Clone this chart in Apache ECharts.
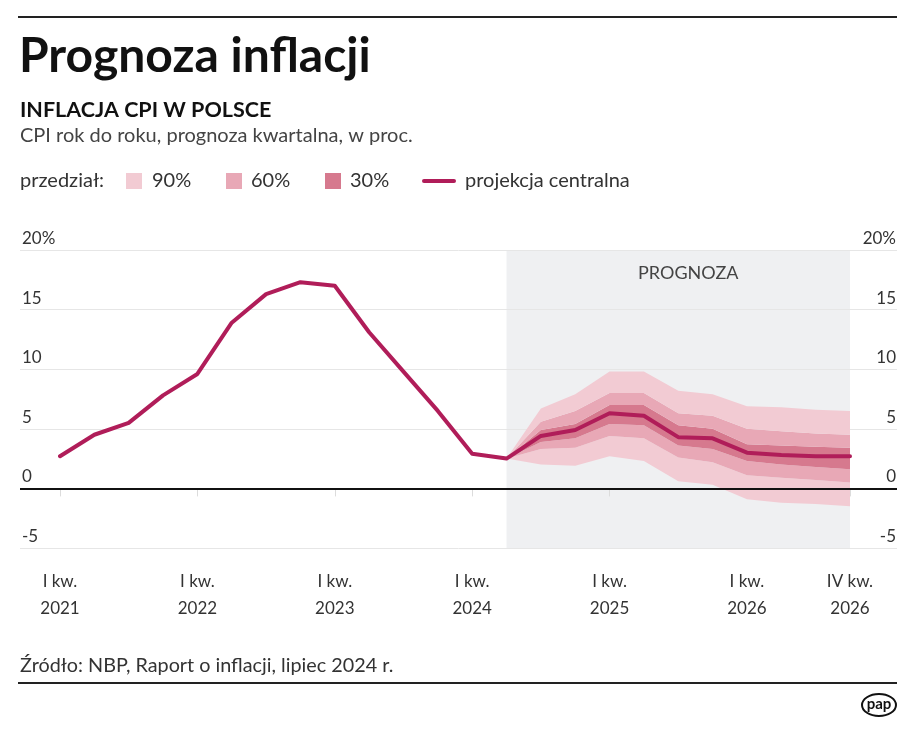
<!DOCTYPE html>
<html>
<head>
<meta charset="utf-8">
<script src="https://cdn.jsdelivr.net/npm/echarts@6/dist/echarts.min.js"></script>
<style>
html,body{margin:0;padding:0;background:#fff;}
#c{width:915px;height:731px;}
</style>
</head>
<body>
<div id="c"></div>
<script>
// ---- DATA ----
const categories = [
  'I kw. 2021','II kw. 2021','III kw. 2021','IV kw. 2021',
  'I kw. 2022','II kw. 2022','III kw. 2022','IV kw. 2022',
  'I kw. 2023','II kw. 2023','III kw. 2023','IV kw. 2023',
  'I kw. 2024','II kw. 2024','III kw. 2024','IV kw. 2024',
  'I kw. 2025','II kw. 2025','III kw. 2025','IV kw. 2025',
  'I kw. 2026','II kw. 2026','III kw. 2026','IV kw. 2026'
];
const labelledQuarters = ['I kw. 2021','I kw. 2022','I kw. 2023','I kw. 2024','I kw. 2025','I kw. 2026','IV kw. 2026'];
// observed CPI, I kw. 2021 .. II kw. 2024
const cpiActual = [2.7, 4.5, 5.5, 7.8, 9.6, 13.9, 16.3, 17.3, 17.0, 13.1, 9.8, 6.5, 2.9, 2.5];
// projection, II kw. 2024 .. IV kw. 2026
const cpiCentral = [2.5, 4.4, 4.9, 6.3, 6.1, 4.3, 4.2, 3.0, 2.8, 2.7, 2.7];
const lower90 = [2.5, 2.0, 1.9, 2.7, 2.3, 0.6, 0.3, -0.9, -1.2, -1.3, -1.5];
const lower60 = [2.5, 3.3, 3.4, 4.4, 4.2, 2.6, 2.2, 1.1, 0.9, 0.7, 0.5];
const lower30 = [2.5, 3.9, 4.2, 5.4, 5.3, 3.6, 3.3, 2.3, 2.0, 1.8, 1.6];
const upper30 = [2.5, 4.9, 5.4, 7.0, 7.0, 5.3, 5.0, 3.7, 3.6, 3.5, 3.4];
const upper60 = [2.5, 5.6, 6.5, 8.0, 8.0, 6.3, 6.1, 5.0, 4.8, 4.6, 4.5];
const upper90 = [2.5, 6.7, 7.9, 9.8, 9.8, 8.2, 7.9, 6.9, 6.8, 6.6, 6.5];
const forecastStart = 'II kw. 2024';
const forecastEnd = 'IV kw. 2026';
const yTicks = [-5, 0, 5, 10, 15, 20];

// ---- STYLE ----
const FONT = 'Lato, "Open Sans", sans-serif';
const C90 = '#f2cbd3', C60 = '#e8a8b6', C30 = '#d6798e', CLINE = '#b01d59';

const startIdx = categories.indexOf(forecastStart);
const pad = n => new Array(n).fill('-');
const fullLine = cpiActual.concat(cpiCentral.slice(1));
function diff(a, b) { return a.map((v, i) => +(v - b[i]).toFixed(2)); }
function bandSeries(name, vals, color) {
  return {
    name, type: 'line', xAxisIndex: 1, yAxisIndex: 1,
    stack: 'fan', stackStrategy: 'all',
    data: pad(startIdx).concat(vals),
    symbol: 'none', lineStyle: { width: 0, opacity: 0 },
    areaStyle: color ? { color, opacity: 1 } : undefined,
    silent: true, z: 2
  };
}

const chart = echarts.init(document.getElementById('c'), null, { renderer: 'canvas' });
const labelSet = new Set(labelledQuarters.map(q => categories.indexOf(q)));

chart.setOption({
  animation: false,
  backgroundColor: '#fff',
  textStyle: { fontFamily: FONT },
  grid: [
    { left: 20, right: 18, top: 250, bottom: 183 },
    { left: 60, right: 65, top: 250, bottom: 183 }
  ],
  xAxis: [
    { type: 'value', gridIndex: 0, min: 0, max: 1, show: false },
    {
      type: 'category', gridIndex: 1, data: categories, boundaryGap: false,
      axisLine: { show: false },
      axisTick: { show: true, length: 8, interval: (i) => labelSet.has(i), lineStyle: { color: '#dcdcdc', width: 1 } },
      axisLabel: {
        interval: (i) => labelSet.has(i), margin: 20,
        color: '#333', fontSize: 17, lineHeight: 27, fontFamily: FONT,
        formatter: v => { const k = v.lastIndexOf(' '); return v.slice(0, k) + '\n' + v.slice(k + 1); }
      },
      splitLine: { show: false }
    }
  ],
  yAxis: [
    {
      type: 'value', gridIndex: 0, min: yTicks[0], max: yTicks[yTicks.length - 1], interval: 5, position: 'left',
      axisLine: { show: false }, axisTick: { show: false },
      axisLabel: {
        inside: true, margin: 2, verticalAlign: 'bottom', padding: [0, 0, 3, 0],
        color: '#333', fontSize: 17, fontFamily: FONT,
        formatter: v => v === 20 ? '20%' : String(v)
      },
      splitLine: { show: true, lineStyle: { color: '#e6e6e6', width: 1 } }
    },
    { type: 'value', gridIndex: 1, min: -5, max: 20, interval: 5, show: false },
    {
      type: 'value', gridIndex: 0, min: -5, max: 20, interval: 5, position: 'right',
      axisLine: { show: false }, axisTick: { show: false }, splitLine: { show: false },
      axisLabel: {
        inside: true, margin: 1, verticalAlign: 'bottom', padding: [0, 0, 3, 0],
        color: '#333', fontSize: 17, fontFamily: FONT,
        formatter: v => v === 20 ? '20%' : String(v)
      }
    }
  ],
  series: [
    {
      type: 'line', xAxisIndex: 1, yAxisIndex: 1, data: [], z: -1, silent: true,
      markArea: {
        silent: true, z: -1,
        itemStyle: { color: '#eff0f2' },
        label: { show: true, position: 'insideTop', distance: 14, offset: [10, 0], color: '#444', fontSize: 18, fontFamily: FONT },
        data: [[{ name: 'PROGNOZA', xAxis: forecastStart }, { xAxis: forecastEnd }]]
      }
    },
    bandSeries('base', lower90, null),
    bandSeries('90%', diff(lower60, lower90), C90),
    bandSeries('60%', diff(lower30, lower60), C60),
    bandSeries('30%', diff(upper30, lower30), C30),
    bandSeries('60%', diff(upper60, upper30), C60),
    bandSeries('90%', diff(upper90, upper60), C90),
    {
      name: 'projekcja centralna', type: 'line', xAxisIndex: 1, yAxisIndex: 1,
      data: fullLine, symbol: 'none', z: 5,
      lineStyle: { color: CLINE, width: 4, join: 'round', cap: 'round' }
    },
    {
      type: 'line', xAxisIndex: 0, yAxisIndex: 0, data: [], z: 6, silent: true,
      markLine: {
        silent: true, symbol: 'none', z: 6,
        label: { show: false },
        lineStyle: { color: '#111', width: 2, type: 'solid' },
        data: [{ yAxis: 0 }]
      }
    }
  ],
  graphic: [
    { type: 'line', shape: { x1: 18, y1: 17, x2: 897, y2: 17 }, style: { stroke: '#222', lineWidth: 2 } },
    { type: 'text', x: 19, y: 57, style: { text: 'Prognoza inflacji', font: 'bold 48px ' + FONT, fill: '#111', verticalAlign: 'middle' } },
    { type: 'text', x: 20, y: 110, style: { text: 'INFLACJA CPI W POLSCE', font: 'bold 21.5px ' + FONT, fill: '#111', verticalAlign: 'middle' } },
    { type: 'text', x: 20, y: 136, style: { text: 'CPI rok do roku, prognoza kwartalna, w proc.', font: '20px ' + FONT, fill: '#444', verticalAlign: 'middle' } },
    { type: 'text', x: 20, y: 181, style: { text: 'przedział:', font: '20px ' + FONT, fill: '#333', verticalAlign: 'middle' } },
    { type: 'rect', shape: { x: 126, y: 173, width: 16, height: 16 }, style: { fill: C90 } },
    { type: 'text', x: 152, y: 181, style: { text: '90%', font: '20px ' + FONT, fill: '#333', verticalAlign: 'middle' } },
    { type: 'rect', shape: { x: 226, y: 173, width: 16, height: 16 }, style: { fill: C60 } },
    { type: 'text', x: 251, y: 181, style: { text: '60%', font: '20px ' + FONT, fill: '#333', verticalAlign: 'middle' } },
    { type: 'rect', shape: { x: 325, y: 173, width: 16, height: 16 }, style: { fill: C30 } },
    { type: 'text', x: 350, y: 181, style: { text: '30%', font: '20px ' + FONT, fill: '#333', verticalAlign: 'middle' } },
    { type: 'line', shape: { x1: 424, y1: 181, x2: 454, y2: 181 }, style: { stroke: CLINE, lineWidth: 4, lineCap: 'round' } },
    { type: 'text', x: 465, y: 181, style: { text: 'projekcja centralna', font: '20px ' + FONT, fill: '#333', verticalAlign: 'middle' } },
    { type: 'text', x: 20, y: 666, style: { text: 'Źródło: NBP, Raport o inflacji, lipiec 2024 r.', font: '19.8px ' + FONT, fill: '#333', verticalAlign: 'middle' } },
    { type: 'line', shape: { x1: 18, y1: 683, x2: 897, y2: 683 }, style: { stroke: '#222', lineWidth: 2 } },
    { type: 'ellipse', shape: { cx: 879, cy: 705, rx: 17, ry: 11 }, style: { fill: '#fff', stroke: '#111', lineWidth: 2 } },
    { type: 'text', x: 879, y: 704, style: { text: 'pap', font: 'bold 15px ' + FONT, fill: '#111', align: 'center', verticalAlign: 'middle' } }
  ]
});
</script>
</body>
</html>
